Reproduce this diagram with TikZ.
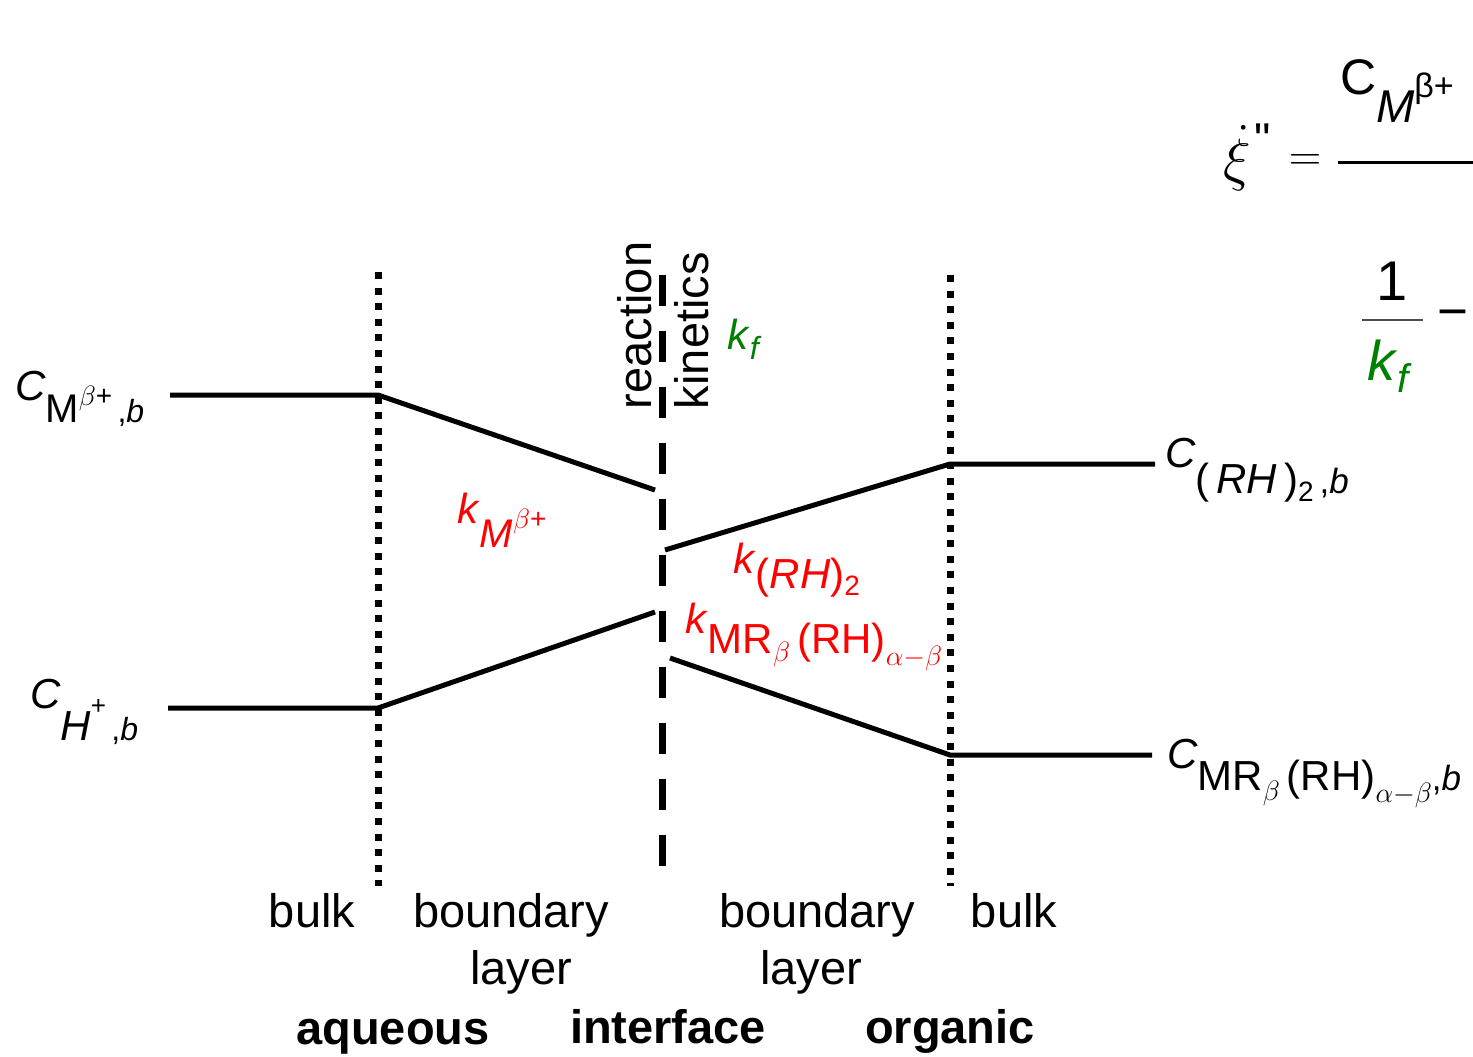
\RequirePackage{fix-cm}
\documentclass[tikz,border=0pt]{standalone}
\usepackage{fontspec}
\setmainfont{Liberation Sans}
\setsansfont{Liberation Sans}
\newfontfamily\qfont{Liberation Sans}[Ligatures=TeXOff]
\newcommand\fs[1]{\fontsize{#1}{#1}\selectfont}
\definecolor{kgreen}{RGB}{0,128,0}
\begin{document}
\begin{tikzpicture}[x=1pt,y=-1pt,
  lbl/.style={inner sep=0pt, outer sep=0pt, anchor=base west},
  conc/.style={line width=5pt},
  dotline/.style={line width=7pt, dash pattern=on 7pt off 8.6pt},
  dashline/.style={line width=7pt, dash pattern=on 31pt off 25pt},
  word/.style={inner sep=0pt, outer sep=0pt, anchor=base, font=\fs{47}},
  bword/.style={word, font=\fs{47}\bfseries},
  rk/.style={lbl, text=red}]
\useasboundingbox (0,0) rectangle (1473,1057);
\clip (0,0) rectangle (1473,1057);

% boundaries
\coordinate (d1t) at (378,272); \coordinate (d1b) at (378,886);
\coordinate (d2t) at (950,275); \coordinate (d2b) at (950,886);
\coordinate (it) at (662,275);  \coordinate (ib) at (662,866);
\draw[dotline] (d1t) -- (d1b);
\draw[dotline] (d2t) -- (d2b);
\draw[dashline] (it) -- (ib);

% concentration profiles
\coordinate (aL) at (170,395); \coordinate (aR) at (378,395); \coordinate (aI) at (655,490);
\coordinate (hL) at (168,708); \coordinate (hR) at (378,708); \coordinate (hI) at (655,612);
\coordinate (rI) at (665,550); \coordinate (rO) at (950,464); \coordinate (rR) at (1155,464);
\coordinate (mI) at (670,658); \coordinate (mO) at (950,755); \coordinate (mR) at (1152,755);
\draw[conc] (aL) -- (aR) -- (aI);
\draw[conc] (hL) -- (hR) -- (hI);
\draw[conc] (rI) -- (rO) -- (rR);
\draw[conc] (mI) -- (mO) -- (mR);

% concentration labels
\node[lbl] (cM) at (15,400) {\fs{42}\textit{C}\raisebox{-22pt}{\fs{40}M}\raisebox{-5pt}{\fs{28}$\beta$+}\raisebox{-22pt}{\fs{32}\,,\textit{b}}};
\node[lbl] (cH) at (30,708) {\fs{42}\textit{C}\raisebox{-32pt}{\textit{H}\raisebox{26pt}{\fs{26}+}\fs{32}\,,\textit{b}}};
\node[lbl] (cR) at (1165,467) {\fs{42}\textit{C}\raisebox{-26pt}{(\,\textit{RH}\,)\raisebox{-8pt}{\fs{28}2}\fs{35}\,,\textit{b}}};
\node[lbl] (cMR) at (1167,768) {\fs{42}\textit{C}\raisebox{-22pt}{MR\raisebox{-10pt}{\fs{28}$\beta$}\,(RH)\raisebox{-12pt}{\fs{28}$\alpha{-}\beta$}\fs{35},\textit{b}}};

% mass transfer coefficients
\node[rk] (kM) at (457,523) {\fs{42}\textit{k}\raisebox{-24pt}{\fs{40}\textit{M}}\raisebox{-5pt}{\fs{28}$\beta$+}};
\node[rk] (kR) at (733,573) {\fs{42}\textit{k}\raisebox{-15pt}{(\textit{RH})\raisebox{-7pt}{\fs{28}2}}};
\node[rk] (kMR) at (685,633) {\fs{42}\textit{k}\raisebox{-20pt}{MR\raisebox{-8pt}{\fs{28}$\beta$}\,(RH)\raisebox{-12pt}{\fs{28}$\alpha{-}\beta$}}};
\node[lbl, text=kgreen] (kf) at (727,349) {\fs{42}\textit{k}\raisebox{-10pt}{\fs{32}\textit{f}}};

% interface labels
\node[word, rotate=90, anchor=base west] (reac) at (651,409) {reaction};
\node[word, rotate=90, anchor=base west] (kin) at (708,409) {kinetics};

% region labels
\node[word] (bulkA) at (312,927) {bulk};
\node[word] (bdA) at (511,927) {boundary};
\node[word] (layA) at (521,984) {layer};
\node[word] (bdO) at (817,927) {boundary};
\node[word] (layO) at (811,984) {layer};
\node[word] (bulkO) at (1014,927) {bulk};
\node[bword] (aq) at (393,1044) {aqueous};
\node[bword] (intf) at (668,1043) {interface};
\node[bword] (org) at (950,1043) {organic};

% equation (cut off at right edge)
\node[lbl, anchor=base] (xi) at (1237,179) {\fs{58}$\dot{\xi}$};
\node[lbl, anchor=north west] (quote) at (1254,124) {\qfont\fs{46}"};
\node[inner sep=0pt] (eq) at (1305,162) {\fs{45}$=$};
\coordinate (barL) at (1338,162); \coordinate (barR) at (1490,162);
\draw[line width=3pt] (barL) -- (barR);
\node[lbl] (num) at (1340,95) {\fs{50}C\raisebox{-28pt}{\fs{46}\textit{M}}\raisebox{-2pt}{\fs{34}β+}};
\node[lbl, anchor=base] (one) at (1392,300) {\fs{56}1};
\coordinate (sbL) at (1362,320); \coordinate (sbR) at (1423,320);
\draw[line width=2pt, black!70] (sbL) -- (sbR);
\node[lbl, text=kgreen] (kf2) at (1367,380) {\fs{56}\textit{k}\raisebox{-12pt}{\fs{40}\textit{f}}};
\node[inner sep=0pt] (minus) at (1453,320) {\fs{53}−};
\end{tikzpicture}
\end{document}
